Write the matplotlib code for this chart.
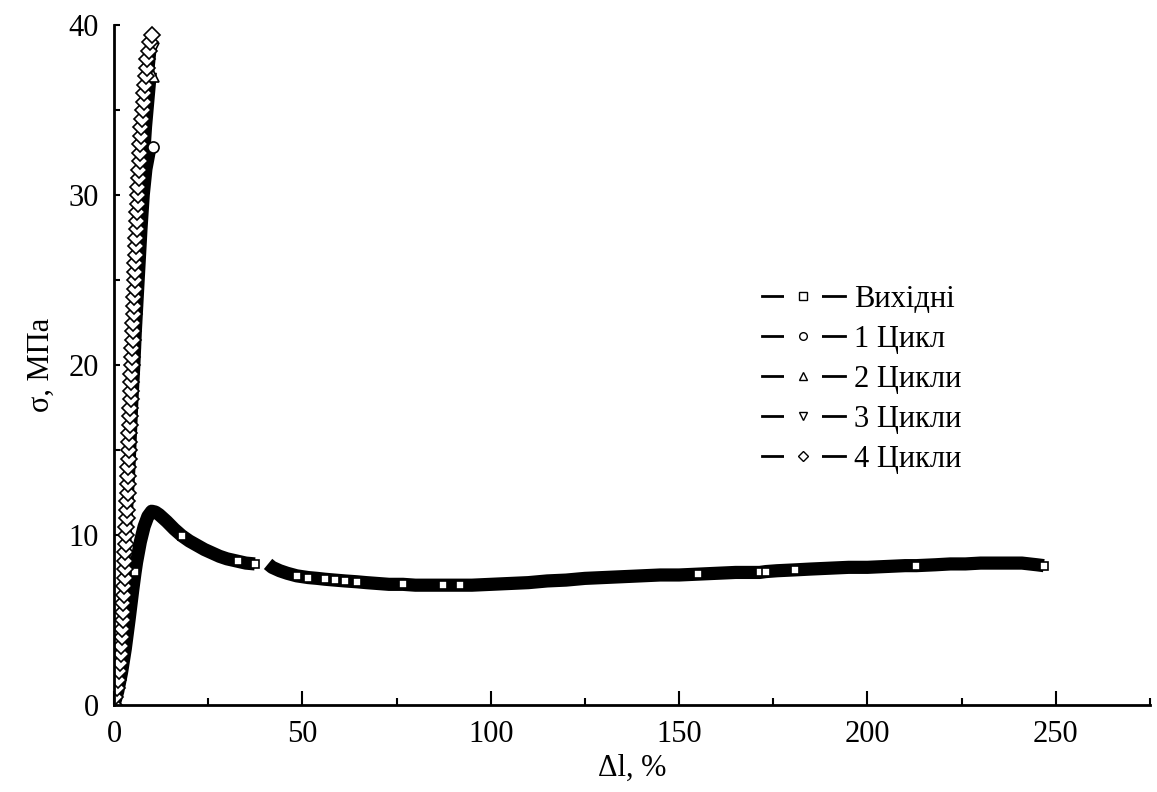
import numpy as np
import matplotlib
matplotlib.use("Agg")
import matplotlib.pyplot as plt
from matplotlib.lines import Line2D
from matplotlib.legend_handler import HandlerTuple
from matplotlib.ticker import MultipleLocator

plt.rcParams['font.family'] = ['Liberation Serif', 'DejaVu Serif']

labels = ['Вихідні', '1 Цикл', '2 Цикли', '3 Цикли', '4 Цикли']

# initial sample (Вихідні), nan = gap in the record
x0 = [0, 1, 2, 3, 4, 5, 5.6, 6, 7, 8, 9, 10, 11, 12, 14, 16, 18, 20, 22, 24,
      26, 28, 30, 33, 35, 37.4, np.nan, 40.9, 42, 44, 46, 48.5, 51.5, 54, 56,
      58.6, 61.3, 64.5, 67, 70, 73, 76.7, 80, 84, 87.3, 91.8, 95, 100, 105,
      110, 115, 120, 125, 130, 135, 140, 145, 150, 155, 160, 165, 171.4, 173,
      176, 180.7, 185, 190, 195, 200, 205, 210, 213, 218, 222, 226, 230, 234,
      238, 241, 243, 245, 246.8]
y0 = [0, 0.8, 1.9, 3.3, 5.0, 6.8, 7.8, 8.4, 9.6, 10.5, 11.1, 11.4, 11.35, 11.2,
      10.8, 10.35, 9.96, 9.65, 9.4, 9.15, 8.95, 8.75, 8.6, 8.45, 8.35, 8.3,
      np.nan, 8.3, 8.1, 7.9, 7.75, 7.6, 7.5, 7.45, 7.4, 7.35, 7.3, 7.25, 7.2,
      7.15, 7.1, 7.1, 7.05, 7.05, 7.05, 7.05, 7.05, 7.1, 7.15, 7.2, 7.3, 7.35,
      7.45, 7.5, 7.55, 7.6, 7.65, 7.65, 7.7, 7.75, 7.8, 7.8, 7.85, 7.9, 7.95,
      8.0, 8.05, 8.1, 8.1, 8.15, 8.2, 8.2, 8.25, 8.3, 8.3, 8.35, 8.35, 8.35,
      8.35, 8.3, 8.25, 8.2]
# points where the square markers stay visible on the band
x0_marked = [5.6, 18, 33, 37.4, 48.5, 51.5, 56, 58.6, 61.3, 64.5, 76.7, 87.3,
             91.8, 155, 171.4, 173, 180.7, 213, 246.8]

# cycles 1-3
x1 = [0, 1.5, 2.6, 3.0, 3.4, 3.8, 4.3, 4.8, 5.2, 5.6, 6.1, 6.5, 7.0, 7.5, 8.0,
      8.6, 9.3, 10.4]
y1 = [0, 1, 3, 5, 8, 10, 12, 14, 16, 18, 20, 22, 24, 26, 28, 30, 31.5, 32.8]
x2 = [0, 1.3, 2.4, 2.8, 3.2, 3.6, 4.1, 4.5, 4.9, 5.3, 5.7, 6.1, 6.5, 7.0, 7.5,
      8.0, 8.6, 9.2, 9.8, 10.4]
y2 = [0, 1, 3, 5, 8, 10, 12, 14, 16, 18, 20, 22, 24, 26, 28, 30, 32, 34, 35.5,
      37.0]
x3 = [0, 1.1, 2.2, 2.6, 3.0, 3.4, 3.9, 4.3, 4.7, 5.1, 5.5, 5.9, 6.3, 6.8, 7.2,
      7.7, 8.2, 8.8, 9.4, 9.9, 10.4]
y3 = [0, 1, 3, 5, 8, 10, 12, 14, 16, 18, 20, 22, 24, 26, 28, 30, 32, 34, 36,
      37.5, 38.6]

# cycle 4
x4 = [0.0, 0.4, 0.7, 1.0, 1.3, 1.6, 1.8, 2.0, 2.1, 2.2, 2.3, 2.4, 2.5, 2.6,
      2.7, 2.8, 2.9, 3.0, 3.05, 3.1, 3.2, 3.3, 3.35, 3.4, 3.5, 3.6, 3.65, 3.7,
      3.8, 3.9, 4.0, 4.05, 4.1, 4.2, 4.3, 4.35, 4.4, 4.5, 4.6, 4.65, 4.7, 4.8,
      4.9, 4.95, 5.0, 5.1, 5.2, 5.3, 5.4, 5.5, 5.6, 5.65, 5.7, 5.8, 5.9, 5.95,
      6.0, 6.1, 6.2, 6.3, 6.4, 6.5, 6.6, 6.7, 6.8, 6.9, 7.0, 7.15, 7.3, 7.5,
      7.7, 7.85, 8.0, 8.2, 8.4, 8.65, 8.9, 9.2, 9.6, 10.1]
y4 = [0, 0.5, 1, 1.5, 2, 2.5, 3, 3.5, 4, 4.5, 5, 5.5, 6, 6.5, 7, 7.5, 8, 8.5,
      9, 9.5, 10, 10.5, 11, 11.5, 12, 12.5, 13, 13.5, 14, 14.5, 15, 15.5, 16,
      16.5, 17, 17.5, 18, 18.5, 19, 19.5, 20, 20.5, 21, 21.5, 22, 22.5, 23,
      23.5, 24, 24.5, 25, 25.5, 26, 26.5, 27, 27.5, 28, 28.5, 29, 29.5, 30,
      30.5, 31, 31.5, 32, 32.5, 33, 33.5, 34, 34.5, 35, 35.5, 36, 36.5, 37,
      37.5, 38, 38.5, 39, 39.4]

markers = ['s', 'o', '^', 'v', 'D']

fig, ax = plt.subplots(figsize=(11.57, 7.92), dpi=100)
fig.subplots_adjust(left=0.0985, right=0.994, bottom=0.1098, top=0.9684)

mk = dict(mfc='white', mec='black', mew=1.2)

# Вихідні: dense record drawn as a thick band, a few markers on top
marked_idx = [i for i, v in enumerate(x0) if v in x0_marked]
ax.plot(x0, y0, color='black', lw=9.5, solid_capstyle='butt',
        solid_joinstyle='round', marker='s', ms=6, markevery=marked_idx, **mk)

for xs, ys, m in [(x3, y3, 'v'), (x2, y2, '^'), (x1, y1, 'o')]:
    ax.plot(xs, ys, color='black', lw=5, marker=m, ms=8,
            markevery=[len(xs) - 1], **mk)

ax.plot(x4, y4, color='black', lw=1.5, marker='D', ms=8.5, **mk)

ax.set_xlim(0, 275)
ax.set_ylim(0, 40)
ax.xaxis.set_major_locator(MultipleLocator(50))
ax.xaxis.set_minor_locator(MultipleLocator(25))
ax.yaxis.set_major_locator(MultipleLocator(10))
ax.yaxis.set_minor_locator(MultipleLocator(5))
ax.tick_params(axis='x', which='major', direction='in', length=10, width=1.5,
               labelsize=22, pad=11)
ax.tick_params(axis='x', which='minor', direction='in', length=5, width=1.5)
ax.tick_params(axis='y', which='both', direction='in', length=4.5, width=1.5,
               labelsize=22, pad=11)
for s in ['top', 'right']:
    ax.spines[s].set_visible(False)
for s in ['left', 'bottom']:
    ax.spines[s].set_linewidth(2)

ax.set_xlabel('Δl, %', fontsize=22, labelpad=3)
ax.set_ylabel('σ, МПа', fontsize=22, labelpad=9)

handles = []
for m in markers:
    handles.append((Line2D([], [], color='black', lw=2),
                    Line2D([], [], marker='_', ms=27, mew=6, color='white',
                           ls='none'),
                    Line2D([], [], marker=m, ms=5.5, mfc='white', mec='black',
                           mew=1, ls='none')))
ax.legend(handles, labels, handler_map={tuple: HandlerTuple(ndivide=1, pad=0)},
          loc='upper left', bbox_to_anchor=(0.6586, 0.640),
          bbox_transform=fig.transFigure, frameon=False, fontsize=22,
          handlelength=2.7, handletextpad=0.3, labelspacing=0.36,
          borderpad=0, borderaxespad=0)

fig.savefig('out.png', dpi=100)
